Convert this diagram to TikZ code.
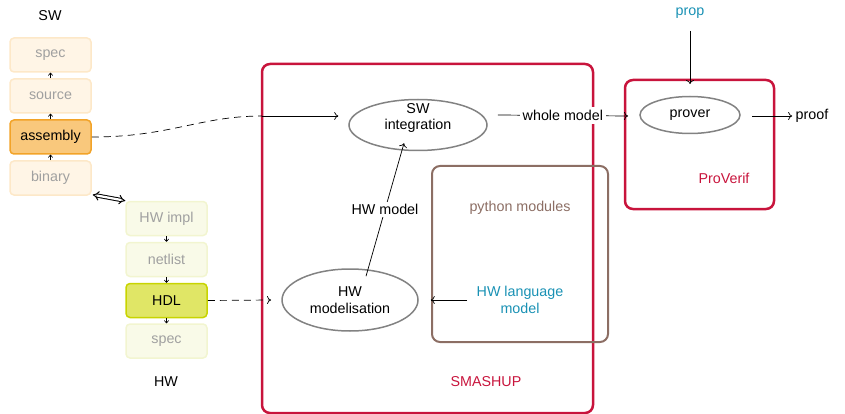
\documentclass[tikz,border=0pt]{standalone}
\usepackage{fontspec}
\setmainfont{Liberation Sans}
\usetikzlibrary{arrows.meta,positioning,calc,shapes.geometric}
\definecolor{swfill}{RGB}{255,245,230}
\definecolor{swline}{RGB}{253,232,200}
\definecolor{asmfill}{RGB}{249,200,124}
\definecolor{asmline}{RGB}{242,163,40}
\definecolor{hwfill}{RGB}{249,250,232}
\definecolor{hwline}{RGB}{242,245,208}
\definecolor{hdlfill}{RGB}{224,230,102}
\definecolor{hdlline}{RGB}{200,212,0}
\definecolor{fadetext}{RGB}{160,160,160}
\definecolor{crimson}{RGB}{200,20,60}
\definecolor{brownish}{RGB}{140,110,100}
\definecolor{tealtext}{RGB}{25,145,180}
\definecolor{ellline}{RGB}{130,130,130}
\begin{document}
\begin{tikzpicture}[x=1pt,y=-1pt,
  font=\fontsize{14.3}{16.5}\selectfont,
  layer/.style={draw, rounded corners=4pt, line width=1.5pt, minimum width=81pt, minimum height=34pt, inner sep=0pt},
  swfaded/.style={layer, fill=swfill, draw=swline, text=fadetext},
  hwfaded/.style={layer, fill=hwfill, draw=hwline, text=fadetext},
  stepar/.style={-{To[length=3pt,width=5pt]}, line width=0.6pt},
  flow/.style={-{To[length=4pt,width=8pt]}, line width=0.7pt},
  oval/.style={ellipse, draw=ellline, line width=1.5pt, align=center, inner sep=0pt},
  group/.style={draw, rounded corners=8pt, line width=2.5pt}
]
\useasboundingbox (0,0) rectangle (845,414);

% software abstraction levels
\node at (50,16) (swlbl) {SW};
\node[swfaded] (swspec) at (50.5,55) {spec};
\node[swfaded] (swsrc) at (50.5,96) {source};
\node[layer, fill=asmfill, draw=asmline] (asm) at (50.5,137) {assembly};
\node[swfaded] (bin) at (50.5,178) {binary};
\draw[stepar] (bin) -- (asm);
\draw[stepar] (asm) -- (swsrc);
\draw[stepar] (swsrc) -- (swspec);

% hardware abstraction levels
\node[hwfaded] (hwimpl) at (166.5,218.5) {HW impl};
\node[hwfaded] (net) at (166.5,259.5) {netlist};
\node[layer, fill=hdlfill, draw=hdlline] (hdl) at (166.5,300.5) {HDL};
\node[hwfaded] (hwspec) at (166.5,341) {spec};
\node at (166,382) (hwlbl) {HW};
\draw[stepar] (hwimpl) -- (net);
\draw[stepar] (net) -- (hdl);
\draw[stepar] (hdl) -- (hwspec);

% link between binary and hardware implementation
\draw[double, double distance=2.2pt, line width=1pt, {Implies[length=6pt]}-{Implies[length=6pt]}] ([shift={(1,-1)}]bin.south east) -- (hwimpl.north west);

% SMASHUP framework
\draw[group, draw=crimson] (262,64) rectangle (593,413);
\node[text=crimson] (smlbl) at (486,382) {SMASHUP};
\draw[group, draw=brownish, line width=2pt] (432,166) rectangle (608,342);
\node[text=brownish] (pymod) at (520,208) {python modules};
\node[text=tealtext, align=center] (hwlang) at (520,300) {HW language\\model};

\node[oval, minimum width=138pt, minimum height=51pt,
  label={[align=center, yshift=7pt]center:{SW\\integration}}] (swint) at (418,125) {};
\node[oval, minimum width=136pt, minimum height=62pt] (hwmod) at (350,300) {HW\\modelisation};

\coordinate (smin) at (262,116);
\coordinate (smhw) at (271,300);
\draw[dashed, dash pattern=on 7pt off 5pt, line width=0.7pt] (asm.east) .. controls (170,137) and (200,116) .. (smin);
\draw[flow] (smin) -- ([xshift=-10pt]swint.west |- smin);
\draw[flow, dashed, dash pattern=on 7pt off 5pt] (hdl.east) -- (smhw);

\draw[flow] ([shift={(16pt,-8pt)}]hwmod.north) -- node[fill=white, inner sep=2pt] (hwmlbl) {HW model} ([shift={(-14pt,8pt)}]swint.south);
\draw[flow] (hwlang.west) ++(-6pt,0) coordinate (hlstart) -- ([xshift=12pt]hwmod.east);

% ProVerif back end
\draw[group, draw=crimson] (625,80) rectangle (774,209);
\node[text=crimson] (pvlbl) at (724,178) {ProVerif};
\node[oval, minimum width=100pt, minimum height=37pt] (prover) at (690,115) {prover};
\node[text=tealtext] (prop) at (690,13) {prop};
\node (proof) at (812,116) {proof};
\coordinate (propend) at (690,31);
\coordinate (proptip) at (690,84);
\draw[flow] (propend) -- (proptip);
\draw[flow] ([xshift=10pt]swint.east |- prover) -- node[fill=white, inner sep=3pt] (wmlbl) {whole model} (628,116);
\draw[flow] (752,116) -- (proof.west);
\end{tikzpicture}
\end{document}
